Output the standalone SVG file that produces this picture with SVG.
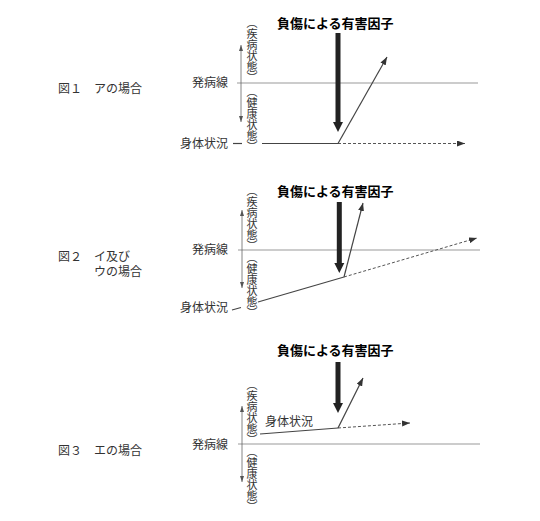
<svg xmlns="http://www.w3.org/2000/svg" width="540" height="521" viewBox="0 0 540 521">
<style>
text{font-family:"Noto Sans CJK JP","Noto Sans CJK SC",sans-serif;}
.lbl{font-size:12px;fill:#333;}
.ttl{font-size:13px;font-weight:bold;fill:#000;}
.vt{font-size:11px;fill:#333;writing-mode:vertical-rl;font-feature-settings:"vhal";}
.base{stroke:#999;stroke-width:1;fill:none;}
.body{stroke:#444;stroke-width:1.2;fill:none;}
.dash{stroke:#555;stroke-width:1;fill:none;stroke-dasharray:3 2;}
.axis{stroke:#666;stroke-width:0.8;fill:none;}
.thick{fill:#222;}
</style>
<defs>
<marker id="ah" viewBox="0 0 8 6" refX="8" refY="3" markerWidth="8" markerHeight="6" markerUnits="userSpaceOnUse" orient="auto">
<path d="M0,0 L8,3 L0,6 Z" fill="#333"/>
</marker>
<marker id="as" viewBox="0 0 6 4" refX="6" refY="2" markerWidth="6" markerHeight="4" markerUnits="userSpaceOnUse" orient="auto-start-reverse">
<path d="M0,0 L6,2 L0,4 Z" fill="#555"/>
</marker>
</defs>
<rect width="540" height="521" fill="#fff"/>

<g id="labels">
<text class="lbl" x="58" y="93">図１　アの場合</text>
<text class="lbl" x="58" y="261">図２　イ及び</text>
<text class="lbl" x="94" y="276">ウの場合</text>
<text class="lbl" x="58" y="455">図３　エの場合</text>
</g>

<g id="panel1">
<text class="ttl" x="277" y="28">負傷による有害因子</text>
<text class="vt" x="252" y="23">（疾病状態）</text>
<text class="vt" x="252" y="92">（健康状態）</text>
<text class="lbl" x="192" y="87">発病線</text>
<text class="lbl" x="180" y="148">身体状況</text>
</g>
<g id="panel2">
<text class="ttl" x="277" y="196">負傷による有害因子</text>
<text class="vt" x="252" y="191">（疾病状態）</text>
<text class="vt" x="252" y="258">（健康状態）</text>
<text class="lbl" x="192" y="254">発病線</text>
<text class="lbl" x="180" y="312">身体状況</text>
</g>
<g id="panel3">
<text class="ttl" x="277" y="355">負傷による有害因子</text>
<text class="vt" x="252" y="385">（疾病状態）</text>
<text class="vt" x="252" y="452">（健康状態）</text>
<text class="lbl" x="192" y="449">発病線</text>
<text class="lbl" x="265" y="426">身体状況</text>
</g>

<g id="connectors">
<!-- panel 1 -->
<line class="base" x1="237" y1="83" x2="478" y2="83"/>
<line class="axis" x1="241" y1="45" x2="241" y2="122" marker-start="url(#as)" marker-end="url(#as)"/>
<line class="body" x1="233" y1="143.5" x2="242" y2="143.5"/>
<line class="body" x1="262" y1="143.5" x2="338" y2="143.5"/>
<line class="dash" x1="338" y1="143.5" x2="465" y2="143.5" marker-end="url(#ah)"/>
<line class="body" x1="338" y1="143.5" x2="387" y2="57" marker-end="url(#ah)"/>
<rect class="thick" x="335.5" y="33" width="5" height="90"/>
<polygon class="thick" points="333,122 343,122 338,132"/>
<!-- panel 2 -->
<line class="base" x1="238" y1="250" x2="480" y2="250"/>
<line class="axis" x1="242" y1="210" x2="242" y2="288" marker-start="url(#as)" marker-end="url(#as)"/>
<line class="body" x1="232" y1="310" x2="241" y2="307.5"/>
<line class="body" x1="258" y1="302" x2="344" y2="277"/>
<line class="dash" x1="344" y1="277" x2="477" y2="238" marker-end="url(#ah)"/>
<line class="body" x1="344" y1="277" x2="363" y2="203" marker-end="url(#ah)"/>
<rect class="thick" x="336.8" y="202" width="5" height="62"/>
<polygon class="thick" points="334.3,263 344.3,263 339.3,273"/>
<!-- panel 3 -->
<line class="base" x1="238" y1="444" x2="480" y2="444"/>
<line class="axis" x1="242" y1="406" x2="242" y2="482" marker-start="url(#as)" marker-end="url(#as)"/>
<line class="body" x1="260" y1="434" x2="338" y2="428"/>
<line class="dash" x1="338" y1="428" x2="410" y2="423" marker-end="url(#ah)"/>
<line class="body" x1="338" y1="428" x2="363" y2="378" marker-end="url(#ah)"/>
<rect class="thick" x="335.5" y="362" width="5" height="42"/>
<polygon class="thick" points="333,403 343,403 338,413"/>
</g>
</svg>
